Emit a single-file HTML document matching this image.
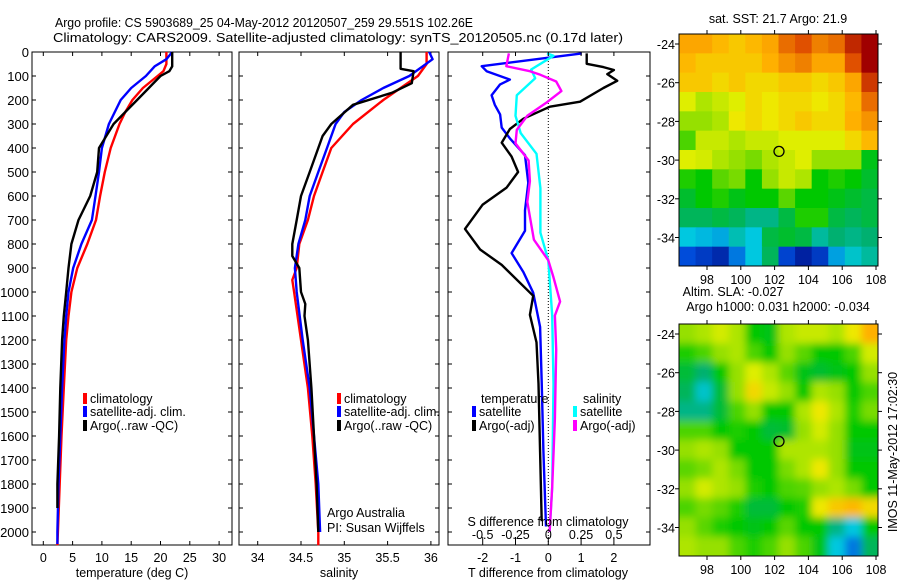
<!DOCTYPE html>
<html><head><meta charset="utf-8"><style>
html,body{margin:0;padding:0;background:#fff;}
svg{display:block;font-family:"Liberation Sans",sans-serif;}
</style></head><body>
<svg id="fig" width="900" height="580" viewBox="0 0 900 580" xmlns="http://www.w3.org/2000/svg">
<rect width="900" height="580" fill="#fff"/>
<text x="55" y="27" font-size="13" textLength="418" lengthAdjust="spacingAndGlyphs">Argo profile: CS 5903689_25 04-May-2012 20120507_259 29.551S 102.26E</text>
<text x="53" y="42" font-size="13" textLength="570" lengthAdjust="spacingAndGlyphs">Climatology: CARS2009. Satellite-adjusted climatology: synTS_20120505.nc (0.17d later)</text>
<g id="g1"></g>
<g id="g2"></g>
<g id="g3"></g>
<g id="m1"></g>
<g id="m2"></g>
</svg>
<script>
// ---------- data ----------
const depthTicks=[0,100,200,300,400,500,600,700,800,900,1000,1100,1200,1300,1400,1500,1600,1700,1800,1900,2000];
const tempTicks=[0,5,10,15,20,25,30];
const salTicks=[34,34.5,35,35.5,36];
const tDiffTicks=[-2,-1,0,1,2];
const sDiffTicks=[-0.5,-0.25,0,0.25,0.5];
const tClimD=[0,50,80,100,150,200,250,300,400,500,600,700,800,900,1000,1100,1200,1400,1600,1800,2000,2055];
const tClimV=[21,21,20.5,19.5,17,15.2,14,13,11.5,10.5,9.7,9,7.5,5.8,4.8,4.3,3.9,3.5,3.1,2.8,2.5,2.4];
const tSatD=[0,30,60,100,150,200,300,400,500,600,700,800,900,1000,1100,1200,1400,1600,1800,2000,2050];
const tSatV=[22,21,19,17.5,15,13.2,11.2,10,9.5,8.9,8.3,6.5,5.1,4.3,3.9,3.6,3.2,2.9,2.6,2.4,2.4];
const tArgoD=[0,60,80,100,150,200,250,300,400,500,600,700,800,900,1000,1100,1200,1400,1600,1800,1900];
const tArgoV=[22,22,21.5,20,18,16,14,12,9.5,9.2,8,6,4.8,4.3,3.9,3.5,3.2,2.9,2.7,2.4,2.4];
const sClimD=[0,50,100,150,200,300,400,500,600,700,800,900,950,1000,1200,1400,1600,1800,2000,2055];
const sClimV=[35.95,35.95,35.85,35.65,35.45,35.1,34.85,34.75,34.65,34.58,34.48,34.45,34.4,34.42,34.5,34.58,34.63,34.67,34.7,34.7];
const sSatD=[0,30,100,150,200,250,300,400,500,600,700,800,900,1000,1200,1400,1600,1800,2000];
const sSatV=[35.98,36.02,35.75,35.45,35.2,35.0,34.9,34.8,34.7,34.6,34.55,34.47,34.43,34.45,34.52,34.6,34.65,34.7,34.72];
const sArgoD=[0,70,80,130,170,220,300,350,400,500,600,700,800,850,900,1000,1050,1100,1200,1400,1600,1800,2000];
const sArgoV=[35.65,35.65,35.8,35.78,35.55,35.1,34.85,34.75,34.7,34.6,34.5,34.45,34.4,34.4,34.48,34.5,34.55,34.54,34.58,34.62,34.65,34.68,34.7];
const dTSatD=[6,59,80,115,135,180,220,260,315,360,430,545,660,745,838,917,1003,1146,1375,1662,1977];
const dTSatV=[1.02,-2.03,-1.88,-1.17,-1.47,-1.73,-1.63,-1.47,-1.42,-1.17,-0.71,-0.61,-0.71,-0.71,-1.12,-0.76,-0.46,-0.25,-0.2,-0.15,-0.07];
const dTArgoD=[6,49,63,75,92,120,150,207,228,278,321,378,436,500,565,636,737,823,887,1016,1095,1210,1382,1668,1955];
const dTArgoV=[1.17,1.17,1.68,2.0,1.8,2.1,1.68,0.97,0.05,-0.76,-1.17,-1.42,-1.12,-0.92,-1.27,-2.0,-2.54,-2.08,-1.42,-0.46,-0.56,-0.36,-0.3,-0.25,-0.2];
const dSSatD=[6,16,73,109,180,266,338,424,567,753,868,1098,1384,1813,2000];
const dSSatV=[-0.01,0.04,-0.13,-0.10,-0.24,-0.25,-0.21,-0.09,-0.06,-0.06,0,0.03,0.04,0.03,0.01];
const dSArgoD=[6,59,80,95,123,163,209,266,324,381,452,538,624,782,868,939,1040,1098,1241,1527,1813,2000];
const dSArgoV=[-0.30,-0.32,-0.14,-0.06,0.06,0.10,-0.01,-0.16,-0.24,-0.25,-0.15,-0.14,-0.16,-0.11,0,0.04,0.09,0.05,0.06,0.05,0.03,0.01];
const lonTicks=[98,100,102,104,106,108];
const latTicks=[-24,-26,-28,-30,-32,-34];
const argoLon=102.26, argoLat=-29.551;
const sstGrid=[
[.76,.76,.74,.72,.74,.76,.82,.85,.8,.82,.9,.95],
[.74,.72,.72,.72,.72,.75,.78,.8,.76,.76,.85,.95],
[.72,.72,.7,.72,.7,.7,.72,.72,.7,.72,.76,.88],
[.66,.62,.64,.66,.7,.68,.7,.7,.68,.7,.74,.82],
[.6,.6,.62,.68,.7,.68,.7,.72,.7,.7,.75,.78],
[.55,.64,.64,.62,.64,.64,.66,.66,.66,.66,.7,.74],
[.66,.65,.62,.6,.58,.62,.64,.66,.6,.6,.6,.48],
[.52,.5,.56,.58,.5,.6,.64,.62,.5,.52,.5,.46],
[.46,.5,.52,.48,.5,.5,.56,.5,.5,.48,.46,.44],
[.42,.42,.44,.42,.38,.38,.44,.52,.52,.44,.42,.44],
[.3,.28,.26,.34,.3,.44,.46,.44,.36,.4,.38,.4],
[.14,.1,.06,.2,.3,.42,.12,.04,.1,.25,.32,.36]];
const slaGrid=[
[.6,.62,.65,.62,.5,.48,.62,.64,.64,.62,.68,.75],
[.52,.55,.6,.62,.55,.5,.6,.56,.5,.5,.55,.65],
[.45,.4,.5,.6,.66,.62,.56,.48,.46,.48,.5,.6],
[.42,.32,.45,.6,.7,.64,.6,.5,.62,.6,.5,.55],
[.38,.38,.45,.55,.6,.5,.5,.62,.68,.62,.52,.58],
[.55,.55,.5,.52,.5,.45,.46,.6,.65,.6,.5,.5],
[.6,.62,.6,.5,.5,.5,.62,.62,.62,.6,.48,.48],
[.56,.58,.62,.58,.5,.5,.58,.62,.68,.6,.5,.5],
[.6,.65,.62,.6,.52,.5,.55,.56,.6,.62,.58,.5],
[.55,.58,.56,.52,.45,.45,.5,.52,.68,.72,.74,.7],
[.6,.56,.52,.5,.48,.5,.56,.5,.5,.38,.3,.5],
[.62,.6,.6,.55,.52,.55,.6,.55,.48,.3,.2,.42]];

// ---------- helpers ----------
const NS='http://www.w3.org/2000/svg';
function mk(parent,tag,attrs,txt){const e=document.createElementNS(NS,tag);for(const k in attrs)e.setAttribute(k,attrs[k]);if(txt!==undefined)e.textContent=txt;parent.appendChild(e);return e;}
const Y0=52, KY=0.24, PT=52, PB=545;
const yD=d=>Y0+d*KY;
function line(g,D,V,xf,color,name){
  const p=D.map((d,i)=>xf(V[i]).toFixed(1)+','+yD(d).toFixed(1)).join(' ');
  const e=mk(g,'polyline',{points:p,fill:'none',stroke:color,'stroke-width':2.4,'stroke-linejoin':'round'});
  
  
}
function frame(g,x0,x1,name){
  const r=mk(g,'rect',{x:x0,y:PT,width:x1-x0,height:PB-PT,fill:'none',stroke:'#000','stroke-width':1});
  
  
  depthTicks.forEach(d=>{mk(g,'line',{x1:x0,x2:x0+4,y1:yD(d),y2:yD(d),stroke:'#000'});mk(g,'line',{x1:x1,x2:x1-4,y1:yD(d),y2:yD(d),stroke:'#000'});});
}
function xticks(g,vals,xf,labY,fmt,top){
  vals.forEach(v=>{const x=xf(v);mk(g,'line',{x1:x,x2:x,y1:PB,y2:PB-4,stroke:'#000'});if(top)mk(g,'line',{x1:x,x2:x,y1:PT,y2:PT+4,stroke:'#000'});
    const t=mk(g,'text',{x:x,y:labY,'font-size':12.5,'text-anchor':'middle'},fmt(v));
    
    });
}
function legendEntry(g,x,y,color,label){
  mk(g,'rect',{x:x,y:y-10,width:4,height:11,fill:color});
  const t=mk(g,'text',{x:x+7,y:y,'font-size':12.5},label);
  
  
}

// ---------- panel 1 ----------
const g1=document.getElementById('g1');
const xT=t=>43.3+t*5.86;
frame(g1,32,232,'temperature-axes');
depthTicks.forEach(d=>{const t=mk(g1,'text',{x:29,y:yD(d)+5,'font-size':13,'text-anchor':'end'},String(d));
  
  });
xticks(g1,tempTicks,xT,562,v=>String(v),true);
mk(g1,'text',{x:132,y:577,'font-size':12.5,'text-anchor':'middle'},'temperature (deg C)');
line(g1,tClimD,tClimV,xT,'#f00','temp-climatology-line');
line(g1,tSatD,tSatV,xT,'#00f','temp-satellite-line');
line(g1,tArgoD,tArgoV,xT,'#000','temp-argo-line');
legendEntry(g1,83,403,'#f00','climatology');
legendEntry(g1,83,416,'#00f','satellite-adj. clim.');
legendEntry(g1,83,430,'#000','Argo(..raw -QC)');

// ---------- panel 2 ----------
const g2=document.getElementById('g2');
const xS=s=>257.7+(s-34)*86.6;
frame(g2,239,439,'salinity-axes');
xticks(g2,salTicks,xS,562,v=>String(v),true);
mk(g2,'text',{x:339,y:577,'font-size':12.5,'text-anchor':'middle'},'salinity');
line(g2,sClimD,sClimV,xS,'#f00','sal-climatology-line');
line(g2,sSatD,sSatV,xS,'#00f','sal-satellite-line');
line(g2,sArgoD,sArgoV,xS,'#000','sal-argo-line');
legendEntry(g2,337,403,'#f00','climatology');
legendEntry(g2,337,416,'#00f','satellite-adj. clim.');
legendEntry(g2,337,430,'#000','Argo(..raw -QC)');
mk(g2,'text',{x:327,y:517,'font-size':12.5},'Argo Australia');
mk(g2,'text',{x:327,y:532,'font-size':12.5},'PI: Susan Wijffels');

// ---------- panel 3 ----------
const g3=document.getElementById('g3');
const xDT=t=>548.3+t*32.8;
const xDS=s=>548.3+s*131.2;
frame(g3,448,650,'difference-axes');
mk(g3,'line',{x1:xDT(0),x2:xDT(0),y1:PT,y2:PB,stroke:'#000','stroke-dasharray':'1,2'});
line(g3,dTSatD,dTSatV,xDT,'#00f','tdiff-satellite-line');
line(g3,dTArgoD,dTArgoV,xDT,'#000','tdiff-argo-line');
line(g3,dSSatD,dSSatV,xDS,'#0ff','sdiff-satellite-line');
line(g3,dSArgoD,dSArgoV,xDS,'#f0f','sdiff-argo-line');
xticks(g3,tDiffTicks,xDT,562,v=>String(v),true);
sDiffTicks.forEach(v=>{const x=xDS(v);mk(g3,'line',{x1:x,x2:x,y1:PB-4,y2:PB-8,stroke:'#000'});
  const t=mk(g3,'text',{x:x,y:539,'font-size':12.5,'text-anchor':'middle'},String(v));
  
  });
mk(g3,'text',{x:548,y:526,'font-size':12.5,'text-anchor':'middle'},'S difference from climatology');
mk(g3,'text',{x:548,y:577,'font-size':12.5,'text-anchor':'middle'},'T difference from climatology');
mk(g3,'text',{x:481,y:403,'font-size':12.5},'temperature');
mk(g3,'text',{x:583,y:403,'font-size':12.5},'salinity');
legendEntry(g3,472,416,'#00f','satellite');
legendEntry(g3,472,430,'#000','Argo(-adj)');
legendEntry(g3,573,416,'#0ff','satellite');
legendEntry(g3,573,430,'#f0f','Argo(-adj)');

// ---------- maps ----------
const stops=[[0,[0,16,138]],[.15,[0,80,224]],[.3,[0,200,224]],[.4,[0,176,112]],[.5,[0,200,0]],[.6,[150,224,0]],[.67,[235,240,0]],[.75,[255,176,0]],[.85,[224,80,0]],[.95,[160,0,0]],[1,[140,0,0]]];
function cmap(v){for(let i=1;i<stops.length;i++){if(v<=stops[i][0]){const a=stops[i-1],b=stops[i],f=(v-a[0])/(b[0]-a[0]);const c=a[1].map((x,j)=>Math.round(x+(b[1][j]-x)*f));return 'rgb('+c.join(',')+')';}}return 'rgb(140,0,0)';}
function drawMap(id,top,grid,title1,title2,blur){
  const g=document.getElementById(id);
  const x0=679,x1=878,y0=top,y1=top+232;
  const lonX=lon=>707+(lon-98)*16.9;
  const latY=lat=>top+10+(-24-lat)*19.35;
  const cells=mk(g,'g',{'clip-path':'url(#clip'+id+')'});
  const cp=mk(g,'clipPath',{id:'clip'+id});mk(cp,'rect',{x:x0,y:y0,width:x1-x0,height:y1-y0});
  if(blur){const f=mk(g,'filter',{id:'bl'+id});mk(f,'feGaussianBlur',{stdDeviation:4});}
  const inner=mk(cells,'g',blur?{filter:'url(#bl'+id+')'}:{});
  const nr=grid.length,nc=grid[0].length,cw=(x1-x0)/nc,ch=(y1-y0)/nr;
  grid.forEach((row,r)=>row.forEach((v,c)=>{
    const pad=blur?10:0;
    const e=mk(inner,'rect',{x:x0+c*cw-(c==0?pad:0),y:y0+r*ch-(r==0?pad:0),width:cw+0.6+(c==0||c==nc-1?pad:0),height:ch+0.6+(r==0||r==nr-1?pad:0),fill:cmap(v)});
    
    
  }));
  mk(g,'rect',{x:x0,y:y0,width:x1-x0,height:y1-y0,fill:'none',stroke:'#000'});
  lonTicks.forEach(l=>{const x=lonX(l);mk(g,'line',{x1:x,x2:x,y1:y1,y2:y1+4,stroke:'#000'});mk(g,'line',{x1:x,x2:x,y1:y0,y2:y0-4,stroke:'#000'});
    const t=mk(g,'text',{x:x,y:y1+18,'font-size':12.5,'text-anchor':'middle'},String(l));
    
    });
  latTicks.forEach(l=>{const y=latY(l);mk(g,'line',{x1:x0,x2:x0-4,y1:y,y2:y,stroke:'#000'});mk(g,'line',{x1:x1,x2:x1+4,y1:y,y2:y,stroke:'#000'});
    const t=mk(g,'text',{x:675,y:y+5,'font-size':12.5,'text-anchor':'end'},String(l));
    
    });
  const c=mk(g,'circle',{cx:lonX(argoLon),cy:latY(argoLat),r:5,fill:'none',stroke:'#000','stroke-width':1.3});
  
  
  if(title2){mk(g,'text',{x:733,y:top-28,'font-size':12.5,'text-anchor':'middle'},title1);mk(g,'text',{x:778,y:top-13,'font-size':12.5,'text-anchor':'middle'},title2);}
  else mk(g,'text',{x:778,y:top-11,'font-size':12.5,'text-anchor':'middle'},title1);
}
drawMap('m1',34,sstGrid,'sat. SST: 21.7 Argo: 21.9',null,false);
drawMap('m2',324,slaGrid,'Altim. SLA: -0.027','Argo h1000: 0.031 h2000: -0.034',true);
const m2=document.getElementById('m2');
mk(m2,'text',{x:0,y:0,'font-size':12.5,'text-anchor':'middle',transform:'translate(897,452) rotate(-90)'},'IMOS 11-May-2012 17:02:30');
</script>
</body></html>
